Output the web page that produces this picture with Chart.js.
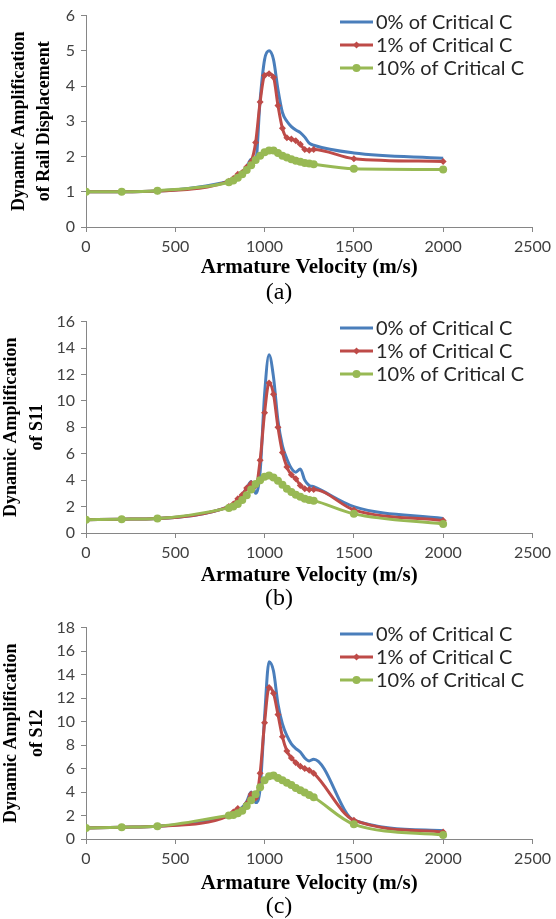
<!DOCTYPE html>
<html>
<head>
<meta charset="utf-8">
<title>Dynamic amplification vs armature velocity</title>
<script src="https://cdn.jsdelivr.net/npm/chart.js@4.4.0/dist/chart.umd.min.js"></script>
<style>
  body { margin: 0; background: #fff; }
  .panel { position: absolute; left: 0; width: 556px; }
</style>
</head>
<body>
<div class="panel" style="top:0"><canvas id="chartA" width="556" height="306"></canvas></div>
<div class="panel" style="top:306px"><canvas id="chartB" width="556" height="306"></canvas></div>
<div class="panel" style="top:612px"><canvas id="chartC" width="556" height="307"></canvas></div>

<script>
// armature velocity (m/s) at which each amplification was computed
const velocity = [0, 200, 400, 800, 825, 850, 875, 900, 925, 950, 975, 1000, 1025, 1050, 1075, 1100, 1125, 1150, 1175, 1200, 1225, 1250, 1275, 1500, 2000];

const seriesNames = ["0% of Critical C", "1% of Critical C", "10% of Critical C"];

// (a) rail displacement
const railDisp0  = [1.00, 1.00, 1.02, 1.30, 1.35, 1.45, 1.55, 1.70, 1.92, 1.85, 3.60, 4.75, 5.00, 4.75, 3.90, 3.25, 3.00, 2.85, 2.75, 2.68, 2.55, 2.38, 2.32, 2.10, 1.95];
const railDisp1  = [1.00, 1.00, 1.02, 1.30, 1.38, 1.50, 1.55, 1.70, 1.85, 2.40, 3.55, 4.30, 4.35, 4.25, 3.45, 2.80, 2.53, 2.50, 2.45, 2.35, 2.20, 2.18, 2.20, 1.94, 1.86];
const railDisp10 = [1.00, 1.00, 1.03, 1.27, 1.32, 1.40, 1.50, 1.62, 1.75, 1.90, 2.02, 2.12, 2.17, 2.17, 2.10, 2.02, 1.97, 1.92, 1.88, 1.85, 1.82, 1.80, 1.78, 1.65, 1.63];

// (b) S11
const s11_0  = [1.00, 1.05, 1.10, 2.00, 2.20, 2.50, 2.90, 3.40, 3.90, 3.00, 4.60, 10.5, 13.5, 11.8, 8.50, 6.60, 5.60, 4.90, 4.60, 4.85, 4.00, 3.60, 3.50, 2.00, 1.10];
const s11_1  = [1.00, 1.05, 1.10, 2.00, 2.20, 2.60, 2.90, 3.40, 3.75, 3.60, 5.50, 9.10, 11.35, 10.5, 8.00, 6.10, 5.00, 4.40, 4.10, 3.60, 3.35, 3.30, 3.30, 1.75, 0.95];
const s11_10 = [1.00, 1.05, 1.10, 1.90, 2.00, 2.20, 2.50, 2.85, 3.30, 3.70, 4.00, 4.25, 4.35, 4.20, 3.95, 3.65, 3.35, 3.10, 2.90, 2.75, 2.60, 2.50, 2.45, 1.45, 0.68];

// (c) S12
const s12_0  = [0.93, 1.00, 1.08, 2.00, 2.20, 2.45, 2.70, 3.20, 4.00, 3.10, 4.30, 10.4, 15.1, 14.3, 11.5, 9.80, 8.80, 8.10, 7.70, 7.40, 6.90, 6.65, 6.80, 1.60, 0.70];
const s12_1  = [0.93, 1.00, 1.08, 2.00, 2.30, 2.60, 2.50, 3.00, 3.80, 3.50, 5.60, 9.90, 12.9, 12.4, 10.6, 8.70, 7.50, 6.90, 6.50, 6.20, 6.00, 5.85, 5.60, 1.60, 0.60];
const s12_10 = [0.93, 1.00, 1.08, 2.00, 2.05, 2.20, 2.40, 2.80, 3.30, 3.80, 4.40, 5.00, 5.35, 5.40, 5.20, 5.00, 4.80, 4.60, 4.35, 4.15, 3.95, 3.75, 3.55, 1.25, 0.35];

const xTicks = [0, 500, 1000, 1500, 2000, 2500];

const COLORS = ["#4A7EBB", "#BE4B48", "#98B954"];
const MARKERS = [null, { style: "rectRot", r: 3.5 }, { style: "circle", r: 4 }];

const toPoints = (vals) => velocity.map((v, i) => ({ x: v, y: vals[i] }));

// axis titles, caption and the legend box are drawn here
const annotate = {
  id: "annotate",
  afterDraw(chart, args, opts) {
    const { ctx, chartArea } = chart;
    ctx.save();
    ctx.fillStyle = "#000";
    ctx.textAlign = "center";
    ctx.textBaseline = "middle";

    ctx.font = "bold 21px 'Liberation Serif', serif";
    ctx.fillText("Armature Velocity (m/s)", (chartArea.left + chartArea.right) / 2, chartArea.bottom + opts.xTitleDy);

    ctx.font = "24px 'Liberation Serif', serif";
    ctx.fillText(opts.caption, 279, chartArea.bottom + opts.captionDy);

    ctx.font = "bold 18px 'Liberation Serif', serif";
    const cy = (chartArea.top + chartArea.bottom) / 2;
    opts.yTitle.forEach((line, i) => {
      ctx.save();
      ctx.translate(opts.yTitleX[i], cy);
      ctx.rotate(-Math.PI / 2);
      ctx.fillText(line, 0, 0);
      ctx.restore();
    });

    // legend
    ctx.font = "20px Lato, sans-serif";
    ctx.textAlign = "left";
    seriesNames.forEach((name, i) => {
      const y = 22 + i * 23;
      ctx.strokeStyle = COLORS[i];
      ctx.lineWidth = 3;
      ctx.beginPath();
      ctx.moveTo(340, y);
      ctx.lineTo(373, y);
      ctx.stroke();
      const m = MARKERS[i];
      if (m) {
        ctx.fillStyle = COLORS[i];
        ctx.beginPath();
        if (m.style === "circle") {
          ctx.arc(356.5, y, m.r, 0, Math.PI * 2);
        } else {
          ctx.moveTo(356.5, y - m.r);
          ctx.lineTo(356.5 + m.r, y);
          ctx.lineTo(356.5, y + m.r);
          ctx.lineTo(356.5 - m.r, y);
          ctx.closePath();
        }
        ctx.fill();
      }
      ctx.fillStyle = "#262626";
      ctx.fillText(name, 376, y + 1);
    });
    ctx.restore();
  }
};

function makeChart(id, series, yMax, yStep, opts) {
  const datasets = series.map((vals, i) => ({
    label: seriesNames[i],
    data: toPoints(vals),
    borderColor: COLORS[i],
    backgroundColor: COLORS[i],
    borderWidth: 3,
    pointStyle: MARKERS[i] ? MARKERS[i].style : "circle",
    pointRadius: MARKERS[i] ? MARKERS[i].r : 0,
    pointBorderWidth: 0,
    cubicInterpolationMode: "monotone",
    order: 3 - i
  }));

  return new Chart(document.getElementById(id), {
    type: "line",
    data: { datasets },
    plugins: [annotate],
    options: {
      responsive: false,
      animation: false,
      devicePixelRatio: 1,
      layout: { padding: { left: 0, right: 18, top: opts.top, bottom: 0 } },
      plugins: {
        legend: { display: false },
        tooltip: { enabled: false },
        annotate: opts
      },
      scales: {
        x: {
          type: "linear",
          min: 0,
          max: 2500,
          afterBuildTicks: (scale) => { scale.ticks = xTicks.map(v => ({ value: v })); },
          afterFit: (scale) => { scale.height = opts.bottom; },
          grid: { drawOnChartArea: false, drawTicks: true, tickLength: 5, color: "#868686" },
          border: { color: "#868686", width: 1 },
          ticks: {
            color: "#404040", font: { family: "Lato, sans-serif", size: 16 }, padding: 5, maxRotation: 0,
            callback: (v) => String(v)
          }
        },
        y: {
          min: 0,
          max: yMax,
          afterFit: (scale) => { scale.width = 86; },
          grid: { drawOnChartArea: false, drawTicks: true, tickLength: 5, color: "#868686" },
          border: { color: "#868686", width: 1 },
          ticks: {
            stepSize: yStep, color: "#404040", font: { family: "Lato, sans-serif", size: 16 }, padding: 6,
            callback: (v) => String(v)
          }
        }
      }
    }
  });
}

makeChart("chartA", [railDisp0, railDisp1, railDisp10], 6, 1, {
  top: 13, bottom: 79, caption: "(a)", xTitleDy: 41, captionDy: 66,
  yTitle: ["Dynamic Amplification", "of Rail Displacement"], yTitleX: [19, 44]
});
makeChart("chartB", [s11_0, s11_1, s11_10], 16, 2, {
  top: 14, bottom: 79, caption: "(b)", xTitleDy: 43, captionDy: 66,
  yTitle: ["Dynamic Amplification", "of S11"], yTitleX: [11, 37]
});
makeChart("chartC", [s12_0, s12_1, s12_10], 18, 2, {
  top: 14, bottom: 80, caption: "(c)", xTitleDy: 45, captionDy: 68,
  yTitle: ["Dynamic Amplification", "of S12"], yTitleX: [11, 37]
});
</script>
</body>
</html>
